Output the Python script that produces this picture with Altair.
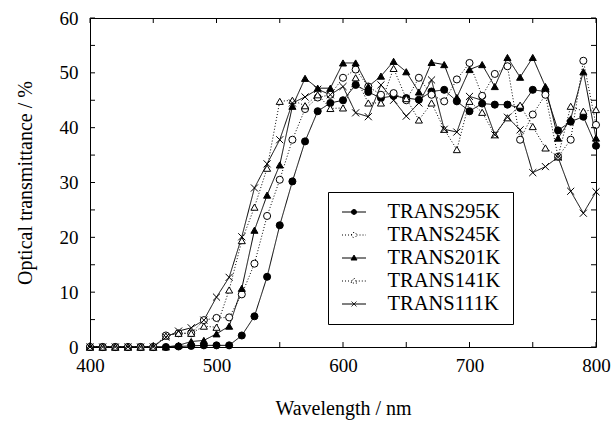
import altair as alt
import pandas as pd

# ---------------- data ----------------
wavelength = [400, 410, 420, 430, 440, 450, 460, 470, 480, 490, 500, 510, 520,
              530, 540, 550, 560, 570, 580, 590, 600, 610, 620, 630, 640, 650,
              660, 670, 680, 690, 700, 710, 720, 730, 740, 750, 760, 770, 780,
              790, 800]

t295 = [0, 0, 0, 0, 0, 0, 0, 0.1, 0.2, 0.3, 0.3, 0.3, 2.1, 5.6, 12.8, 22.2,
        30.2, 37.5, 43.0, 44.5, 45.0, 47.8, 46.5, 45.4, 45.8, 45.4, 45.1, 46.6,
        46.9, 44.8, 43.0, 44.4, 44.2, 44.2, 43.6, 46.9, 46.6, 39.5, 41.1, 42.0,
        36.7]
t245 = [0, 0, 0, 0, 0, 0, 2.1, 2.5, 2.5, 4.9, 5.3, 5.4, 9.6, 15.2, 23.9, 30.5,
        37.8, 43.4, 45.5, 46.0, 49.1, 50.6, 47.5, 46.0, 46.3, 45.0, 49.1, 46.0,
        44.8, 48.8, 51.8, 45.8, 49.8, 51.2, 37.8, 42.4, 46.0, 34.7, 37.8, 52.2,
        40.5]
t201 = [0, 0, 0, 0, 0, 0, 0, 0.3, 1.0, 1.2, 2.4, 3.8, 10.7, 21.3, 27.7, 33.2,
        43.9, 49.0, 47.2, 47.2, 51.8, 51.8, 47.5, 49.4, 52.1, 50.2, 46.5, 51.9,
        51.5, 45.5, 50.6, 51.5, 47.5, 52.8, 49.2, 52.8, 47.5, 38.1, 41.6, 50.2,
        38.1]
t141 = [0, 0, 0, 0, 0, 0, 2.0, 2.5, 2.5, 3.8, 3.6, 10.4, 19.4, 25.5, 32.6, 44.8,
        45.0, 44.0, 46.0, 43.5, 43.6, 49.1, 44.5, 44.5, 50.8, 45.3, 41.4, 44.5,
        39.7, 36.0, 44.8, 42.8, 38.7, 41.8, 44.1, 40.2, 36.3, 34.7, 43.9, 43.0,
        43.3]
t111 = [0, 0, 0, 0, 0, 0, 1.8, 2.9, 3.5, 4.9, 9.1, 12.7, 20.1, 29.0, 33.4, 37.8,
        44.5, 45.6, 47.0, 46.0, 47.5, 42.7, 42.0, 47.8, 45.0, 42.1, 44.5, 48.7,
        39.7, 39.2, 45.7, 45.0, 38.7, 41.9, 39.6, 31.8, 32.9, 34.6, 28.4, 24.4,
        28.3]

series_names = ["TRANS295K", "TRANS245K", "TRANS201K", "TRANS141K", "TRANS111K"]
series_values = [t295, t245, t201, t141, t111]

x_labels = [400, 500, 600, 700, 800]
y_labels = [0, 10, 20, 30, 40, 50, 60]
x_ticks = [400, 450, 500, 550, 600, 650, 700, 750, 800]
y_ticks = [0, 5, 10, 15, 20, 25, 30, 35, 40, 45, 50, 55, 60]

rows = []
for name, vals in zip(series_names, series_values):
    for w, v in zip(wavelength, vals):
        rows.append({"series": name, "wavelength": w, "T": v})
df = pd.DataFrame(rows)

# ---------------- styles ----------------
FONT = "Liberation Serif"
W, H = 506, 329
TICK = 5

dash_range = [[1, 0], [1, 2], [1, 0], [1, 2], [1, 0]]
fill_range = ["black", "white", "black", "white", "white"]
stroke_range = ["black", "black", "black", "black", "black"]
XPATH = "M-1,-1L1,1M-1,1L1,-1"
shape_range = ["circle", "circle", "triangle-up", "triangle-up", XPATH]

leg_paths = [
    "M-1,0H1M-0.21,0A0.21,0.21,0,1,1,0.21,0A0.21,0.21,0,1,1,-0.21,0Z",
    "M-1,0H-0.21M0.21,0H1M-0.21,0A0.21,0.21,0,1,1,0.21,0A0.21,0.21,0,1,1,-0.21,0Z",
    "M-1,0H1M0,-0.25L0.25,0.17L-0.25,0.17Z",
    "M-1,0H-0.15M0.15,0H1M0,-0.25L0.25,0.17L-0.25,0.17Z",
    "M-1,0H1M-0.2,-0.2L0.2,0.2M-0.2,0.2L0.2,-0.2",
]

xs = alt.Scale(domain=[400, 800], nice=False, zero=False)
ys = alt.Scale(domain=[0, 60], nice=False, zero=False)

x_axis = alt.Axis(values=x_labels, title="Wavelength / nm", ticks=False, tickSize=0,
                  domain=False, grid=False, labelFont=FONT, labelFontSize=19,
                  labelColor="black", labelPadding=9, labelFlush=False,
                  titleFont=FONT, titleFontSize=20, titleFontWeight="normal",
                  titleColor="black", titleX=W / 2, titleY=61,
                  titleBaseline="middle", titleAlign="center")
y_axis = alt.Axis(values=y_labels, title="Optical transmittance / %", ticks=False,
                  tickSize=0, domain=False, grid=False, labelFont=FONT,
                  labelFontSize=19, labelColor="black", labelPadding=12,
                  labelFlush=False, titleFont=FONT, titleFontSize=20,
                  titleFontWeight="normal", titleColor="black", titleX=-65,
                  titleY=H / 2, titleBaseline="middle", titleAlign="center",
                  titleAngle=270)

X = alt.X("wavelength:Q", scale=xs, axis=x_axis)
Y = alt.Y("T:Q", scale=ys, axis=y_axis)

base = alt.Chart(df)

lines = base.mark_line(stroke="black", strokeWidth=1).encode(
    x=X, y=Y,
    detail="series:N",
    strokeDash=alt.StrokeDash("series:N", scale=alt.Scale(domain=series_names, range=dash_range), legend=None),
)

points = base.mark_point(filled=True, stroke="black", strokeWidth=1, size=50, opacity=1).encode(
    x=X, y=Y,
    shape=alt.Shape("series:N", scale=alt.Scale(domain=series_names, range=shape_range), legend=None),
    fill=alt.Fill("series:N", scale=alt.Scale(domain=series_names, range=fill_range), legend=None),
)

leg = alt.Legend(title="\u00a0", titleOrient="right", titlePadding=4,
                 titleFontSize=20, titleFont=FONT,
                 orient="none", legendX=238, legendY=174,
                 symbolSize=576, symbolStrokeWidth=1, symbolStrokeColor="black",
                 symbolOffset=5,
                 labelFont=FONT, labelFontSize=20.5, labelColor="black",
                 labelOffset=21, labelLimit=400, padding=8.5, rowPadding=0,
                 clipHeight=23,
                 strokeColor="black", fillColor="white", cornerRadius=0)

legend_layer = base.transform_filter("false").mark_point(
    filled=False, strokeWidth=1, opacity=1).encode(
    x=X, y=Y,
    shape=alt.Shape("series:N", scale=alt.Scale(domain=series_names, range=leg_paths), legend=leg),
    fill=alt.Fill("series:N", scale=alt.Scale(domain=series_names, range=fill_range), legend=leg),
    stroke=alt.Stroke("series:N", scale=alt.Scale(domain=series_names, range=stroke_range), legend=leg),
    strokeDash=alt.StrokeDash("series:N", scale=alt.Scale(domain=series_names, range=dash_range), legend=leg),
)

xt = pd.DataFrame({"wavelength": x_ticks})
yt = pd.DataFrame({"T": y_ticks})
XT = alt.X("wavelength:Q", scale=xs, axis=x_axis)
YT = alt.Y("T:Q", scale=ys, axis=y_axis)

xtick_b = alt.Chart(xt).mark_rule(color="black", strokeWidth=1).encode(
    x=XT, y=alt.value(H), y2=alt.value(H - TICK))
xtick_t = alt.Chart(xt).mark_rule(color="black", strokeWidth=1).encode(
    x=XT, y=alt.value(0), y2=alt.value(TICK))
ytick_l = alt.Chart(yt).mark_rule(color="black", strokeWidth=1).encode(
    y=YT, x=alt.value(0), x2=alt.value(TICK))
ytick_r = alt.Chart(yt).mark_rule(color="black", strokeWidth=1).encode(
    y=YT, x=alt.value(W), x2=alt.value(W - TICK))

chart = alt.layer(
    lines, points, legend_layer, xtick_b, xtick_t, ytick_l, ytick_r
).resolve_scale(
    shape="independent", fill="independent", strokeDash="independent",
    stroke="independent"
).properties(
    width=W, height=H,
    autosize=alt.AutoSizeParams(type="none"),
    padding={"left": 90, "top": 18, "right": 17, "bottom": 76},
    background="white",
).configure(
    font=FONT
).configure_axis(
    labelFont=FONT, titleFont=FONT
).configure_legend(
    labelFont=FONT, titleFont=FONT
).configure_view(stroke="black", strokeWidth=1)

chart.save("out.html", embed_options={"renderer": "svg", "actions": False})
